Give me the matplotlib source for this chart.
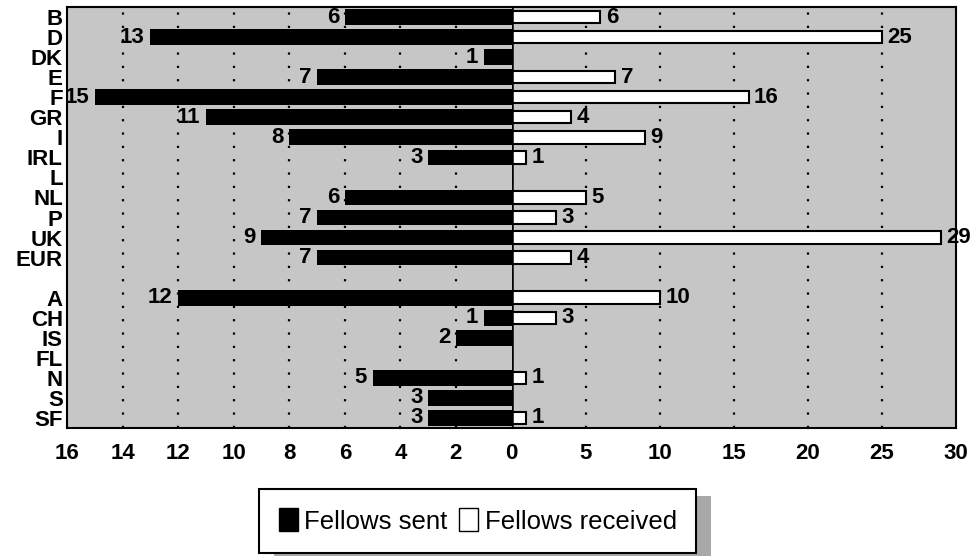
import numpy as np
import matplotlib
matplotlib.use("Agg")
import matplotlib.pyplot as plt
from matplotlib.patches import Rectangle, Patch

# Data
countries = ['B', 'D', 'DK', 'E', 'F', 'GR', 'I', 'IRL', 'L', 'NL', 'P', 'UK', 'EUR',
             'A', 'CH', 'IS', 'FL', 'N', 'S', 'SF']
sent = [6, 13, 1, 7, 15, 11, 8, 3, 0, 6, 7, 9, 7, 12, 1, 2, 0, 5, 3, 3]
received = [6, 25, 0, 7, 16, 4, 9, 1, 0, 5, 3, 29, 4, 10, 3, 0, 0, 1, 0, 1]
n_eu = 13  # first group (EU members + EUR), followed by one empty row

sent_ticks = [16, 14, 12, 10, 8, 6, 4, 2]
recv_ticks = [0, 5, 10, 15, 20, 25, 30]

plt.rcParams['font.family'] = ['Liberation Sans', 'DejaVu Sans']
plt.rcParams['font.weight'] = 'bold'

BG = '#c6c6c6'
idx = np.arange(len(countries))
ypos = idx + (idx >= n_eu)

fig = plt.figure(figsize=(9.79, 5.56), dpi=100)
left, bottom, width, height = 67 / 979, 1 - 428 / 556, (956 - 67) / 979, (428 - 7) / 556
axL = fig.add_axes([left, bottom, width / 2, height])
axR = fig.add_axes([left + width / 2, bottom, width / 2, height])

for ax in (axL, axR):
    ax.set_facecolor(BG)
    ax.set_ylim(ypos.max() + 0.5, -0.5)
    ax.tick_params(length=0)
    for s in ax.spines.values():
        s.set_linewidth(1.5)
        s.set_color('black')

# left half: fellows sent
axL.set_xlim(16, 0)
axL.spines['right'].set_visible(False)
for t in sent_ticks[1:]:
    axL.axvline(t, color='black', lw=1.6, ls=(0, (1, 5)), zorder=1)
axL.barh(ypos, sent, height=0.78, color='black', zorder=2)
for y, v in zip(ypos, sent):
    if v > 0:
        axL.annotate(str(v), (v, y), xytext=(-4, 0), textcoords='offset points',
                     ha='right', va='center', fontsize=16, fontweight='bold')
axL.set_yticks(ypos)
axL.set_yticklabels(countries, fontsize=16, fontweight='bold')
axL.tick_params(axis='y', pad=3)
axL.set_xticks(sent_ticks)
axL.set_xticklabels([str(t) for t in sent_ticks], fontsize=16, fontweight='bold')
axL.tick_params(axis='x', pad=11)

# right half: fellows received
axR.set_xlim(0, 30)
axR.spines['left'].set_visible(False)
for t in recv_ticks[1:-1]:
    axR.axvline(t, color='black', lw=1.6, ls=(0, (1, 5)), zorder=1)
axR.barh(ypos, received, height=0.62, facecolor='white', edgecolor='black',
         linewidth=1.5, zorder=2)
for y, v in zip(ypos, received):
    if v > 0:
        axR.annotate(str(v), (v, y), xytext=(4, 0), textcoords='offset points',
                     ha='left', va='center', fontsize=16, fontweight='bold')
axR.axvline(0, color='black', lw=1.8, zorder=3)
axR.set_yticks([])
axR.set_xticks(recv_ticks)
axR.set_xticklabels([str(t) for t in recv_ticks], fontsize=16, fontweight='bold')
axR.tick_params(axis='x', pad=11)

handles = [Patch(facecolor='black', edgecolor='black', label='Fellows sent'),
           Patch(facecolor='white', edgecolor='black', label='Fellows received')]
leg = fig.legend(handles=handles, loc='center', bbox_to_anchor=(0.488, 0.063), ncol=2,
                 fontsize=18.5, frameon=True, fancybox=False, edgecolor='black',
                 handlelength=0.75, handleheight=1.0, handletextpad=0.25,
                 columnspacing=0.45, borderpad=0.75, borderaxespad=0)
leg.get_frame().set_linewidth(1.5)
leg.get_frame().set_alpha(1)
for txt in leg.get_texts():
    txt.set_fontweight('normal')

# stippled drop shadow on the right of the legend box
fig.canvas.draw()
bb = leg.get_window_extent()
x0, y0 = fig.transFigure.inverted().transform((bb.x0 + 15, bb.y0 - 7))
x1, y1 = fig.transFigure.inverted().transform((bb.x1 + 15, bb.y1 - 7))
fig.add_artist(Rectangle((x0, y0), x1 - x0, y1 - y0, transform=fig.transFigure,
                         facecolor='#a8a8a8', edgecolor='none', zorder=4))

fig.savefig('out.png', dpi=100)
